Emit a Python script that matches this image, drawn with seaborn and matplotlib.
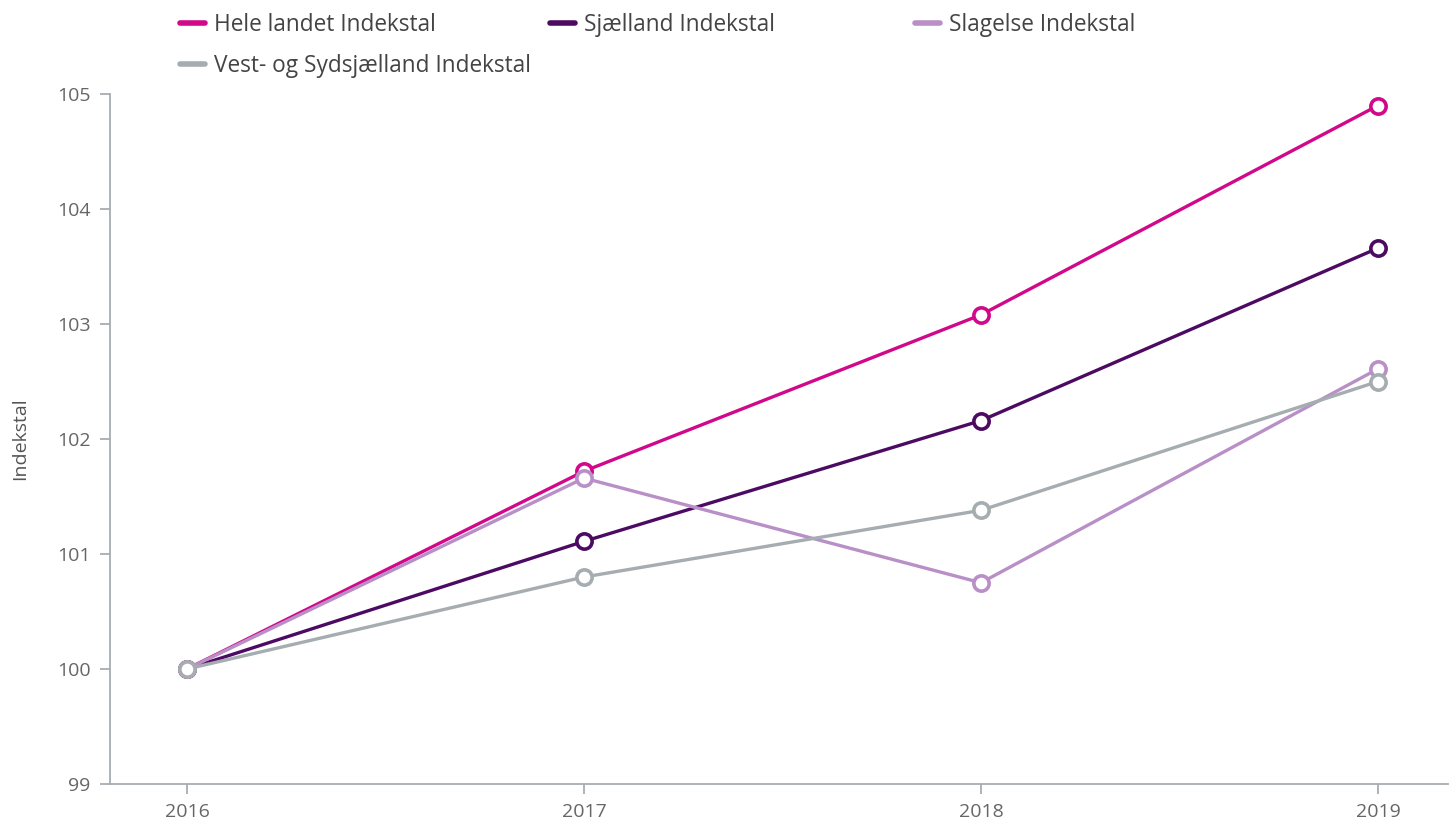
import pandas as pd
import matplotlib
matplotlib.use('Agg')
import matplotlib.pyplot as plt
import seaborn as sns
from matplotlib.lines import Line2D

# Data
years = [2016, 2017, 2018, 2019]
series_names = [
    'Hele landet Indekstal',
    'Sjælland Indekstal',
    'Slagelse Indekstal',
    'Vest- og Sydsjælland Indekstal',
]
hele_landet = [100.0, 101.72, 103.08, 104.90]
sjaelland = [100.0, 101.11, 102.16, 103.66]
slagelse = [100.0, 101.66, 100.75, 102.61]
vest_syd = [100.0, 100.80, 101.38, 102.50]
y_ticks = [99, 100, 101, 102, 103, 104, 105]

colors = ['#d1088a', '#4d0a63', '#b88fc6', '#a6adb0']
palette = dict(zip(series_names, colors))

frames = []
for name, vals in zip(series_names, [hele_landet, sjaelland, slagelse, vest_syd]):
    frames.append(pd.DataFrame({'year': years, 'value': vals, 'serie': name}))
df = pd.concat(frames, ignore_index=True)

sns.set_style('white')
plt.rcParams['font.family'] = ['Open Sans', 'DejaVu Sans']

fig = plt.figure(figsize=(14.5, 8.25), dpi=100)
ax = fig.add_axes([110 / 1450, 1 - 784 / 825, (1448 - 110) / 1450, (784 - 94) / 825])

for name in series_names:
    sns.lineplot(data=df[df['serie'] == name], x='year', y='value',
                 color=palette[name], lw=2.4, marker='o', ms=11,
                 mfc='white', mec=palette[name], mew=2.6, ax=ax, legend=False)

ax.set_xlim(2016 - 77 / 397, 2019 + 70 / 397)
ax.set_ylim(99, 105)
ax.set_xticks(years)
ax.set_xticklabels([str(y) for y in years])
ax.set_yticks(y_ticks)
ax.set_xlabel('')
ax.set_ylabel('Indekstal', fontsize=14, color='#555555', labelpad=20)

axis_col = '#a6adb0'
for side in ['top', 'right']:
    ax.spines[side].set_visible(False)
for side in ['left', 'bottom']:
    ax.spines[side].set_color(axis_col)
    ax.spines[side].set_linewidth(1.3)
ax.tick_params(axis='both', which='major', length=7, width=1.3, color=axis_col,
               labelsize=14, labelcolor='#666666', pad=7, direction='out',
               left=True, bottom=True)
ax.grid(False)

# legend: 3 column grid, placed like the original
def handle(c):
    return Line2D([0], [0], color=c, lw=4, solid_capstyle='round')

leg_kw = dict(frameon=False, fontsize=16.3, handlelength=1.1, handletextpad=0.38,
              borderpad=0, borderaxespad=0, labelspacing=0.75, loc='upper left',
              labelcolor='#444444')
top = 1 - 13 / 825
fig.legend([handle(colors[0]), handle(colors[3])], [series_names[0], series_names[3]],
           bbox_to_anchor=(180 / 1450, top), **leg_kw)
fig.legend([handle(colors[1])], [series_names[1]],
           bbox_to_anchor=(550 / 1450, top), **leg_kw)
fig.legend([handle(colors[2])], [series_names[2]],
           bbox_to_anchor=(915 / 1450, top), **leg_kw)

fig.savefig('out.png', dpi=100)
